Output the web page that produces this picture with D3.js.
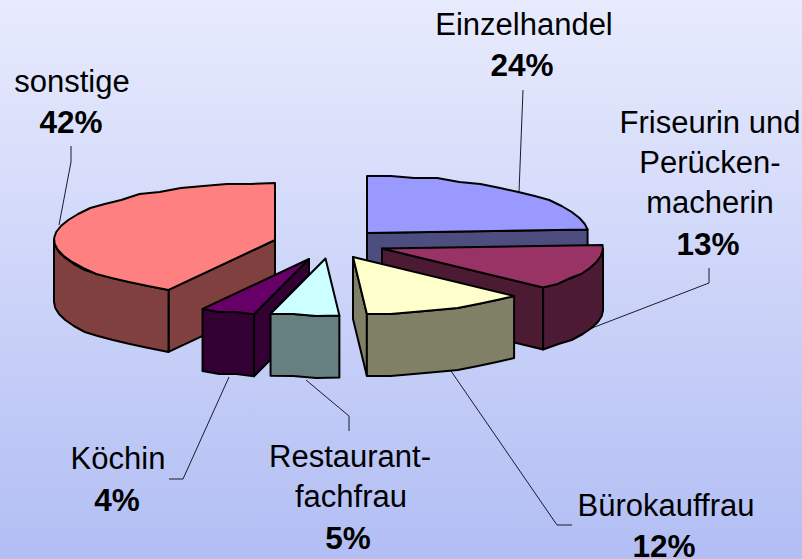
<!DOCTYPE html>
<html>
<head>
<meta charset="utf-8">
<script src="https://cdn.jsdelivr.net/npm/d3@7/dist/d3.min.js"></script>
<style>
html,body{margin:0;padding:0;overflow:hidden;background:#c8d0f8}
svg{display:block}
text{font-family:"Liberation Sans",Arial,sans-serif;fill:#000;text-anchor:middle}
</style>
</head>
<body>
<script>
// Data
const categories = ["Einzelhandel", "Friseurin und Perückenmacherin", "Bürokauffrau", "Restaurantfachfrau", "Köchin", "sonstige"];
const shares = [24, 13, 12, 5, 4, 42];

// Styles
const topColors = ["#9999FF", "#993366", "#FFFFCC", "#CCFFFF", "#660066", "#FF8080"];
const sideColors = ["#4D4D80", "#4D1A33", "#808066", "#668080", "#330033", "#804040"];

// Layout
const W = 802, H = 559, RX = 221, RY = 57, DEPTH = 62;
const sliceCenters = [[367, 233], [382, 248.5], [353, 257], [325.5, 258.5], [309, 259], [275, 240]];
const paintOrder = [5, 0, 1, 2, 4, 3];
const labelLines = [
  [["Einzelhandel", 524, 35], ["24%", 522, 76, 1]],
  [["Friseurin und", 710, 133], ["Perücken-", 710, 173], ["macherin", 710, 213], ["13%", 708, 255, 1]],
  [["Bürokauffrau", 666, 516], ["12%", 664, 557, 1]],
  [["Restaurant-", 350, 467], ["fachfrau", 351, 507], ["5%", 348, 549, 1]],
  [["Köchin", 118, 469], ["4%", 117, 511, 1]],
  [["sonstige", 72, 92], ["42%", 71, 133, 1]]
];
const leaders = [
  [[523, 90], [519, 192]],
  [[709, 268], [709, 283], [592, 328]],
  [[572, 525], [557, 525], [451, 371]],
  [[349, 431], [349, 416], [306, 380]],
  [[169, 479], [183, 479], [229, 377]],
  [[71, 146], [71, 162], [59, 225]]
];

const svg = d3.select("body").append("svg").attr("width", W).attr("height", H);
const grad = svg.append("defs").append("linearGradient").attr("id", "bg")
  .attr("x1", 0).attr("y1", 0).attr("x2", 0).attr("y2", 1);
grad.append("stop").attr("offset", 0).attr("stop-color", "#E8EBFD");
grad.append("stop").attr("offset", 1).attr("stop-color", "#B2BEF4");
svg.append("rect").attr("width", W).attr("height", H).attr("fill", "url(#bg)");

const arcs = d3.pie().sort(null).startAngle(0).endAngle(2 * Math.PI)(shares);
const line = d3.line();

function project(c, a, z) {
  return [c[0] + RX * Math.sin(a), c[1] - RY * Math.cos(a) + z];
}
// Rim polyline with the coarse device rounding of the original metafile look
function arcPoints(c, a0, a1, z) {
  const n = Math.max(2, Math.ceil(Math.abs(a1 - a0) / 0.11));
  return d3.range(n + 1).map(i => {
    const p = project(c, a0 + (a1 - a0) * i / n, z);
    return (i === 0 || i === n) ? p : [p[0], Math.round(p[1] / 2) * 2];
  });
}
function closed(points) { return line(points) + "Z"; }

// Leader lines sit beneath the slices
svg.append("g").attr("fill", "none").attr("stroke", "#1a1a2a").attr("stroke-width", 1)
  .selectAll("path").data(leaders).join("path").attr("d", d => line(d));

const pieG = svg.append("g")
  .attr("stroke", "#000").attr("stroke-width", 2).attr("stroke-linejoin", "round");

paintOrder.forEach(i => {
  const d = arcs[i], c = sliceCenters[i], g = pieG.append("g");
  const side = sideColors[i];
  // Radial walls whose outward normal points down the screen face the viewer
  [d.startAngle, d.endAngle].forEach(a => {
    const p = project(c, a, 0);
    const mid = project(c, (d.startAngle + d.endAngle) / 2, 0);
    const ex = p[0] - c[0], ey = p[1] - c[1];
    let nx = ey, ny = -ex;
    if (nx * (mid[0] - c[0]) + ny * (mid[1] - c[1]) > 0) { nx = -nx; ny = -ny; }
    if (ny > 0) {
      g.append("path").attr("fill", side)
        .attr("d", closed([[c[0], c[1]], p, [p[0], p[1] + DEPTH], [c[0], c[1] + DEPTH]]));
    }
  });
  // Curved outer wall: only the front half of the rim shows
  const a0 = Math.max(d.startAngle, Math.PI / 2), a1 = Math.min(d.endAngle, 3 * Math.PI / 2);
  if (a1 > a0) {
    g.append("path").attr("fill", side)
      .attr("d", closed(arcPoints(c, a0, a1, 0).concat(arcPoints(c, a1, a0, DEPTH))));
  }
  // Top face
  g.append("path").attr("fill", topColors[i])
    .attr("d", closed([[c[0], c[1]]].concat(arcPoints(c, d.startAngle, d.endAngle, 0))));
});

// Labels
svg.append("g").selectAll("g").data(labelLines).join("g")
  .selectAll("text").data(d => d).join("text")
  .attr("x", d => d[1]).attr("y", d => d[2])
  .attr("font-size", d => d[3] ? 31.5 : 31)
  .attr("font-weight", d => d[3] ? "bold" : "normal")
  .text(d => d[0]);
</script>
</body>
</html>
